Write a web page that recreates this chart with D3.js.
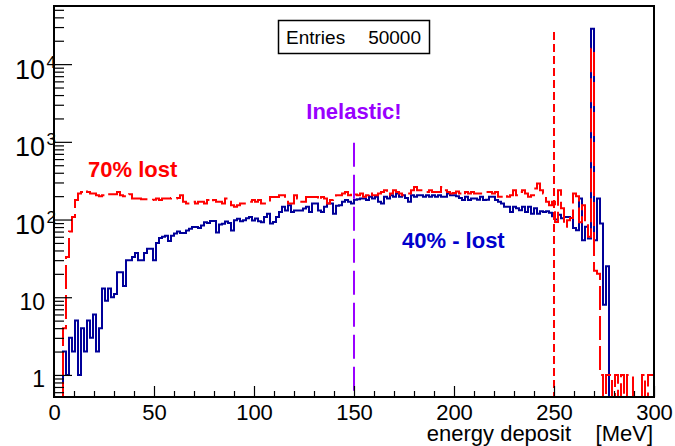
<!DOCTYPE html>
<html>
<head>
<meta charset="utf-8">
<script src="https://cdn.jsdelivr.net/npm/d3@7"></script>
<style>
  body { margin: 0; background: #fff; }
  svg { font-family: "Liberation Sans", Arial, sans-serif; }
</style>
</head>
<body>
<div id="okvir"></div>
<script>
// histogram: 200 bins of 1.5 MeV from 0 to 300 MeV
const binWidth = 1.5;
const blueCounts = [
  0,0,0,2,1,3,2,5,1,4,2,5,3,6,2,4,13,9,13,10,
  11,21,21,14,30,30,33,37,30,30,37,42,42,30,50,58,60,62,53,62,
  66,70,67,67,72,76,80,80,78,84,92,90,96,96,68,86,88,94,90,72,
  98,102,95,98,104,108,97,103,95,92,108,119,89,93,108,125,146,131,153,125,
  131,131,131,139,146,125,161,161,131,125,146,161,161,119,150,153,169,178,169,161,
  180,182,187,187,178,196,187,196,169,161,196,187,206,196,216,196,206,190,169,206,
  196,206,206,196,206,196,206,196,206,196,196,216,206,206,200,190,178,196,178,187,
  187,180,196,178,180,196,196,178,169,161,146,146,125,146,140,132,146,125,146,119,
  140,119,128,125,128,122,110,100,115,104,108,108,105,78,73,187,54,81,57,28600,
  54,187,89,8,25,0,0,0,0,0,0,0,0,0,0,0,0,0,0,0
];
const redCounts = [
  0,0,0,4,33,70,108,178,216,226,238,226,216,216,206,200,206,216,212,212,
  212,226,206,200,196,212,187,187,187,182,182,182,178,180,187,178,187,187,187,190,
  187,190,205,169,161,161,169,161,169,169,161,178,169,178,169,169,161,187,169,153,
  146,153,161,161,169,169,178,170,178,161,161,169,195,195,195,206,206,178,161,161,
  206,187,169,169,195,195,195,195,178,195,187,161,178,187,206,206,216,226,206,226,
  210,206,216,196,206,226,206,206,216,226,238,206,216,238,226,216,206,216,216,238,
  262,238,238,238,226,238,226,226,226,262,238,226,216,220,230,216,206,226,216,226,
  216,216,216,226,226,226,216,226,196,196,206,196,206,238,206,226,238,216,196,206,
  250,290,238,216,169,153,169,93,238,140,81,98,105,216,200,92,153,98,60,15800,
  22,20,1,0,1,1,0,1,0,1,0,1,1,0,0,0,1,0,1,1
];
const xTicks = [0, 50, 100, 150, 200, 250, 300];
const yTicks = [1, 10, 100, 1000, 10000];
const entries = 50000;
const inelasticAt = 150;
const cutAt = 250;

const dim = {
  width: 675,
  height: 446,
  margin: { top: 6, right: 21, bottom: 49, left: 54 }
};
const x0 = dim.margin.left, x1 = dim.width - dim.margin.right;
const yTop = dim.margin.top, yBot = dim.height - dim.margin.bottom;

const svg = d3.select("#okvir").append("svg")
  .attr("width", dim.width)
  .attr("height", dim.height);

const x = d3.scaleLinear().domain([0, 300]).range([x0, x1]);
const yMin = 0.52, yMax = 56000;
const y = d3.scaleLog().domain([yMin, yMax]).range([yBot, yTop]);
const yv = v => y(Math.max(v, yMin));

svg.append("defs").append("clipPath").attr("id", "okvir-clip")
  .append("rect")
  .attr("x", x0).attr("y", yTop)
  .attr("width", x1 - x0).attr("height", yBot - yTop);

const plot = svg.append("g").attr("clip-path", "url(#okvir-clip)");

// step outline like ROOT histogram drawing
const stepPts = counts => {
  const pts = counts.map((c, i) => ({ e: i * binWidth, v: c }));
  pts.push({ e: counts.length * binWidth, v: counts[counts.length - 1] });
  pts.push({ e: counts.length * binWidth, v: 0 });
  return pts;
};
const line = d3.line()
  .x(d => x(d.e))
  .y(d => yv(d.v))
  .curve(d3.curveStepAfter);

plot.append("path")
  .attr("d", line(stepPts(blueCounts)))
  .attr("fill", "none")
  .attr("stroke", "#000099")
  .attr("stroke-width", 2);

plot.append("path")
  .attr("d", line(stepPts(redCounts)))
  .attr("fill", "none")
  .attr("stroke", "#ff0000")
  .attr("stroke-width", 2)
  .attr("stroke-dasharray", "24,6");

// vertical markers
plot.append("line")
  .attr("x1", x(inelasticAt)).attr("x2", x(inelasticAt))
  .attr("y1", y(1000) + 1).attr("y2", yBot)
  .attr("stroke", "#9900ff").attr("stroke-width", 2)
  .attr("stroke-dasharray", "24,8");

plot.append("line")
  .attr("x1", x(cutAt)).attr("x2", x(cutAt))
  .attr("y1", y(30000) + 5).attr("y2", yBot)
  .attr("stroke", "#ff0000").attr("stroke-width", 2)
  .attr("stroke-dasharray", "8,4");

// labels
svg.append("text").attr("x", x(17)).attr("y", 177)
  .attr("font-size", 22).attr("font-weight", "bold").attr("fill", "#ff0000")
  .text("70% lost");

svg.append("text").attr("x", x(inelasticAt)).attr("y", 119)
  .attr("text-anchor", "middle")
  .attr("font-size", 22).attr("font-weight", "bold").attr("fill", "#9900ff")
  .text("Inelastic!");

svg.append("text").attr("x", x(174)).attr("y", 248)
  .attr("font-size", 22).attr("font-weight", "bold").attr("fill", "#0000cc")
  .text("40% - lost");

// stats box
const stat = svg.append("g");
stat.append("rect")
  .attr("x", 278.5).attr("y", 20.5).attr("width", 151).attr("height", 33)
  .attr("fill", "#fff").attr("stroke", "#000").attr("stroke-width", 1.5);
stat.append("text").attr("x", 286).attr("y", 44)
  .attr("font-size", 19).text("Entries");
stat.append("text").attr("x", 421).attr("y", 44)
  .attr("text-anchor", "end").attr("font-size", 19).text(entries);

// x axis
const xOs = svg.append("g")
  .attr("transform", `translate(0,${yBot})`)
  .call(d3.axisBottom(x).tickValues(xTicks).tickSizeInner(-11).tickSizeOuter(0).tickPadding(7));
xOs.select(".domain").remove();
xOs.selectAll(".tick text").attr("font-size", 22)
  .attr("font-family", "Liberation Sans, Arial, sans-serif").attr("fill", "#000");

const xMinor = svg.append("g")
  .attr("transform", `translate(0,${yBot})`)
  .call(d3.axisBottom(x).tickValues(d3.range(0, 301, 10).filter(d => d % 50 !== 0))
    .tickSizeInner(-6).tickSizeOuter(0).tickFormat(""));
xMinor.select(".domain").remove();

svg.append("text")
  .attr("x", x1 - 1).attr("y", 441)
  .attr("text-anchor", "end")
  .attr("font-size", 22)
  .style("white-space", "pre")
  .text("energy deposit    [MeV]");

// y axis
const yMinorVals = [];
for (let d = -1; d <= 4; d++) {
  for (let k = 2; k <= 9; k++) {
    const v = k * Math.pow(10, d);
    if (v > yMin && v < yMax) yMinorVals.push(v);
  }
}
const yOs = svg.append("g")
  .attr("transform", `translate(${x0},0)`)
  .call(d3.axisLeft(y).tickValues(yTicks).tickSizeInner(-18).tickSizeOuter(0).tickFormat(""));
yOs.select(".domain").remove();
const yMinor = svg.append("g")
  .attr("transform", `translate(${x0},0)`)
  .call(d3.axisLeft(y).tickValues(yMinorVals).tickSizeInner(-10).tickSizeOuter(0).tickFormat(""));
yMinor.select(".domain").remove();

yOs.selectAll(".tick").each(function(v) {
  const g = d3.select(this);
  const exp = Math.round(Math.log10(v));
  if (exp < 2) {
    g.append("text").attr("x", -9).attr("y", 12)
      .attr("text-anchor", "end").attr("font-size", 23).attr("fill", "#000")
      .attr("font-family", "Liberation Sans, Arial, sans-serif")
      .text(String(v));
  } else {
    g.append("text").attr("x", -9).attr("y", 14)
      .attr("text-anchor", "end").attr("font-size", 27).attr("fill", "#000")
      .attr("font-family", "Liberation Sans, Arial, sans-serif")
      .text("10");
    g.append("text").attr("x", -7.5).attr("y", 3)
      .attr("text-anchor", "start").attr("font-size", 17).attr("fill", "#000")
      .attr("font-family", "Liberation Sans, Arial, sans-serif")
      .text(String(exp));
  }
});

svg.selectAll(".tick line").attr("stroke", "#000").attr("stroke-width", 1.2);

// frame
svg.append("rect")
  .attr("x", x0).attr("y", yTop)
  .attr("width", x1 - x0).attr("height", yBot - yTop)
  .attr("fill", "none").attr("stroke", "#000").attr("stroke-width", 2);
</script>
</body>
</html>
